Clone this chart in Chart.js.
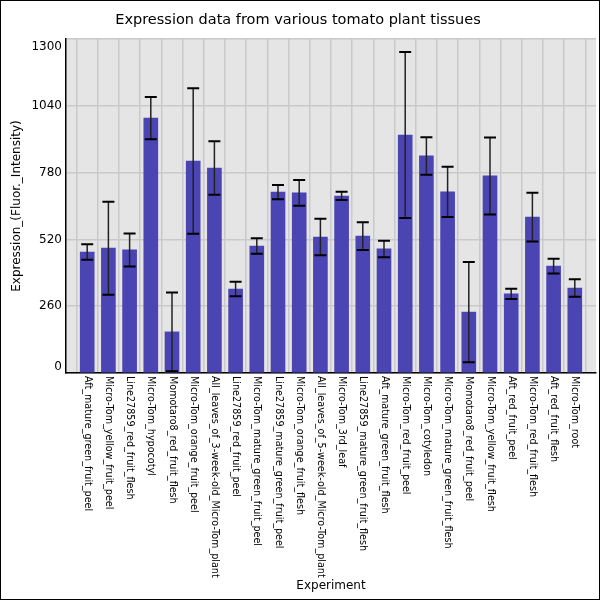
<!DOCTYPE html>
<html>
<head>
<meta charset="utf-8">
<script src="https://cdn.jsdelivr.net/npm/chart.js@4"></script>
<style>
  html, body { margin: 0; padding: 0; background: #fff; }
  #wrap { width: 600px; height: 600px; }
</style>
</head>
<body>
<div id="wrap"><canvas id="tissueChart" width="600" height="600"></canvas></div>
<script>
const experiments = [
    "Aft_mature_green_fruit_peel",
    "Micro-Tom_yellow_fruit_peel",
    "Line27859_red_fruit_flesh",
    "Micro-Tom_hypocotyl",
    "Momotaro8_red_fruit_flesh",
    "Micro-Tom_orange_fruit_peel",
    "All_leaves_of_3-week-old_Micro-Tom_plant",
    "Line27859_red_fruit_peel",
    "Micro-Tom_mature_green_fruit_peel",
    "Line27859_mature_green_fruit_peel",
    "Micro-Tom_orange_fruit_flesh",
    "All_leaves_of_5-week-old_Micro-Tom_plant",
    "Micro-Tom_3rd_leaf",
    "Line27859_mature_green_fruit_flesh",
    "Aft_mature_green_fruit_flesh",
    "Micro-Tom_red_fruit_peel",
    "Micro-Tom_cotyledon",
    "Micro-Tom_mature_green_fruit_flesh",
    "Momotaro8_red_fruit_peel",
    "Micro-Tom_yellow_fruit_flesh",
    "Aft_red_fruit_peel",
    "Micro-Tom_red_fruit_flesh",
    "Aft_red_fruit_flesh",
    "Micro-Tom_root"
];

const expression = [471, 486, 479, 992, 160, 825, 798, 327, 494, 704, 701, 529,
                    689, 533, 483, 926, 845, 705, 237, 767, 308, 607, 416, 331];

const stdDev = [30, 181, 64, 82, 153, 283, 104, 28, 30, 28, 50, 71,
                16, 54, 32, 323, 73, 98, 195, 150, 20, 95, 29, 34];

const yTicks = [0, 260, 520, 780, 1040, 1300];

const FONT = "'DejaVu Sans', sans-serif";

document.addEventListener("DOMContentLoaded", function () {
    const canvas = document.getElementById("tissueChart");
    const ctx = canvas.getContext("2d");

    // fondo gris del área y marco exterior
    const backdrop = {
        id: "backdrop",
        beforeDraw(chart) {
            const c = chart.ctx, a = chart.chartArea;
            c.save();
            c.fillStyle = "#ffffff";
            c.fillRect(0, 0, chart.width, chart.height);
            c.fillStyle = "#e5e5e5";
            c.fillRect(a.left, a.top, a.right - a.left, a.bottom - a.top);
            c.restore();
        },
        afterDraw(chart) {
            const c = chart.ctx;
            c.save();
            c.strokeStyle = "#000";
            c.lineWidth = 1;
            c.strokeRect(0.5, 0.5, chart.width - 1, chart.height - 1);
            c.restore();
        }
    };

    // barras de error (media ± desviación)
    const errorBars = {
        id: "errorBars",
        afterDatasetsDraw(chart) {
            const c = chart.ctx;
            const xs = chart.scales.x, ys = chart.scales.y;
            c.save();
            expression.forEach((v, i) => {
                const x = xs.getPixelForValue(i);
                const yTop = ys.getPixelForValue(v + stdDev[i]);
                const yBot = ys.getPixelForValue(Math.max(0, v - stdDev[i]));
                c.strokeStyle = "#222";
                c.lineWidth = 1.5;
                c.beginPath();
                c.moveTo(x, yTop);
                c.lineTo(x, yBot);
                c.stroke();
                c.strokeStyle = "#000";
                c.lineWidth = 2;
                c.beginPath();
                c.moveTo(x - 6, yTop);
                c.lineTo(x + 6, yTop);
                c.moveTo(x - 6, yBot);
                c.lineTo(x + 6, yBot);
                c.stroke();
            });
            c.restore();
        }
    };

    // etiquetas giradas en sentido horario y etiquetas del eje y
    const tickText = {
        id: "tickText",
        afterDraw(chart) {
            const c = chart.ctx, a = chart.chartArea;
            const xs = chart.scales.x, ys = chart.scales.y;
            c.save();
            c.fillStyle = "#000";
            c.font = "9.6px " + FONT;
            c.textAlign = "left";
            c.textBaseline = "middle";
            experiments.forEach((lab, i) => {
                c.save();
                c.translate(xs.getPixelForValue(i), a.bottom + 3);
                c.rotate(Math.PI / 2);
                c.fillText(lab, 0, 0);
                c.restore();
            });
            c.font = "12px " + FONT;
            c.textAlign = "right";
            ys.ticks.forEach(t => {
                let y = ys.getPixelForValue(t.value);
                y = Math.min(Math.max(y, a.top + 8), a.bottom - 6);
                c.fillText(String(t.value), a.left - 4, y);
            });
            c.restore();
        }
    };

    const data = {
        datasets: [{
            label: "Expression",
            data: expression.map((v, i) => ({ x: i, y: v })),
            backgroundColor: "#4b45b4",
            borderWidth: 0,
            barThickness: 14
        }]
    };

    const options = {
        responsive: false,
        animation: false,
        layout: { padding: { left: 0, right: 4, top: 0, bottom: 0 } },
        plugins: {
            legend: { display: false },
            tooltip: { enabled: false },
            title: {
                display: true,
                text: "Expression data from various tomato plant tissues",
                color: "#000",
                font: { family: FONT, size: 14.5, weight: "normal" },
                padding: { top: 11.3, bottom: 10.3 }
            }
        },
        scales: {
            x: {
                type: "linear",
                min: -1,
                max: experiments.length,
                offset: false,
                ticks: { display: false, stepSize: 1, maxTicksLimit: 40, autoSkip: false },
                grid: { color: "#c9c9c9", lineWidth: 1.5, drawTicks: false },
                border: { color: "#000", width: 1.5 },
                title: {
                    display: true,
                    text: "Experiment",
                    color: "#000",
                    font: { family: FONT, size: 12 },
                    padding: { top: 0, bottom: 7 }
                },
                afterFit(scale) { scale.height = 227; }
            },
            y: {
                min: 0,
                max: 1300,
                afterBuildTicks(scale) { scale.ticks = yTicks.map(v => ({ value: v })); },
                ticks: { display: false },
                grid: { color: "#c9c9c9", lineWidth: 1.5, drawTicks: false },
                border: { color: "#000", width: 1.5 },
                title: {
                    display: true,
                    text: "Expression_(Fluor._Intensity)",
                    color: "#000",
                    font: { family: FONT, size: 12 },
                    padding: { top: 10, bottom: 0 }
                },
                afterFit(scale) { scale.width = 66; }
            }
        }
    };

    new Chart(ctx, {
        type: "bar",
        data: data,
        options: options,
        plugins: [backdrop, errorBars, tickText]
    });
});
</script>
</body>
</html>
